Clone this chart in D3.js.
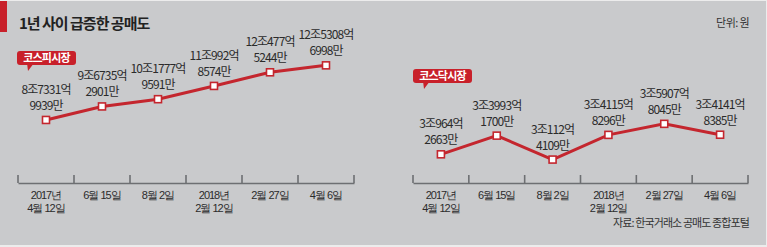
<!DOCTYPE html>
<html>
<head>
<meta charset="utf-8">
<script src="https://cdn.jsdelivr.net/npm/d3@7"></script>
<style>
  body { margin: 0; background: #ececec; }
  svg { display: block; font-family: "Noto Sans CJK KR", "Noto Sans", sans-serif; }
  .val { font-size: 12px; fill: #2b2b2b; letter-spacing: -0.9px; }
  .axis text { font-size: 11px; fill: #2b2b2b; letter-spacing: -1px; }
</style>
</head>
<body>
<svg id="chart" width="767" height="247"></svg>
<script>
// x 축 날짜 (줄바꿈은 \n)
var dates = ['2017년\n4월 12일', '6월 15일', '8월 2일', '2018년\n2월 12일', '2월 27일', '4월 6일'];
// 공매도 잔고, 단위: 만 원
var kospi = [873319939, 967352901, 1017779591, 1109928574, 1204775244, 1253086998];
var kosdaq = [309642663, 339931700, 301124109, 341158296, 359078045, 341418385];

var red = '#c4262e';
var svg = d3.select('#chart');

// 배경
svg.append('rect').attr('x', 0).attr('y', 1).attr('width', 766).attr('height', 244).attr('fill', '#c9cacc');
svg.append('rect').attr('x', 0).attr('y', 1).attr('width', 7).attr('height', 31).attr('fill', '#c8202a');

svg.append('text')
  .attr('x', 19).attr('y', 29)
  .attr('font-size', 15).attr('font-weight', 'bold')
  .attr('letter-spacing', '-1px')
  .attr('fill', '#222')
  .text('1년 사이 급증한 공매도');

svg.append('text')
  .attr('x', 749).attr('y', 27)
  .attr('text-anchor', 'end')
  .attr('font-size', 11).attr('letter-spacing', '-0.6px')
  .attr('fill', '#333')
  .text('단위: 원');

svg.append('text')
  .attr('x', 749).attr('y', 227)
  .attr('text-anchor', 'end')
  .attr('font-size', 11).attr('letter-spacing', '-0.9px')
  .attr('fill', '#333')
  .text('자료: 한국거래소 공매도 종합포털');

function fmt(v) {
  var jo = Math.floor(v / 1e8);
  var eok = Math.floor(v / 1e4) % 1e4;
  var man = v % 1e4;
  return [jo + '조' + eok + '억', man + '만'];
}

function panel(values, name, xRange, yDomain, yRange, badge) {
  var x = d3.scaleBand().domain(dates).range(xRange);
  var y = d3.scaleLinear().domain(yDomain).range(yRange);
  var axisY = 183;
  var g = svg.append('g');

  // 축
  var axis = g.append('g')
    .attr('class', 'axis')
    .attr('transform', 'translate(0,' + axisY + ')')
    .call(d3.axisBottom(x).tickSize(0).tickPadding(0));
  axis.select('.domain').attr('stroke', '#6d6f72').attr('stroke-width', 1.6);
  axis.selectAll('.tick text').each(function (d) {
    var t = d3.select(this).text(null).attr('y', 0).attr('dy', null);
    d.split('\n').forEach(function (s, i) {
      t.append('tspan').attr('x', 0).attr('y', 16 + i * 12.5).text(s);
    });
  });
  var edges = dates.map(function (d) { return x(d); }).concat([xRange[1]]);
  g.selectAll('line.edge')
    .data(edges)
    .enter()
    .append('line')
    .attr('class', 'edge')
    .attr('x1', function (d) { return d; })
    .attr('x2', function (d) { return d; })
    .attr('y1', axisY - 8)
    .attr('y2', axisY)
    .attr('stroke', '#6d6f72')
    .attr('stroke-width', 1.6);

  var cx = function (d, i) { return x(dates[i]) + x.bandwidth() / 2; };

  var line = d3.line()
    .x(cx)
    .y(function (d) { return y(d); });
  g.append('path')
    .datum(values)
    .attr('d', line)
    .attr('fill', 'none')
    .attr('stroke', red)
    .attr('stroke-width', 3);

  g.selectAll('rect.pt')
    .data(values)
    .enter()
    .append('rect')
    .attr('class', 'pt')
    .attr('x', function (d, i) { return cx(d, i) - 3.5; })
    .attr('y', function (d) { return y(d) - 3.5; })
    .attr('width', 7)
    .attr('height', 7)
    .attr('fill', '#fff')
    .attr('stroke', red)
    .attr('stroke-width', 1.6);

  var labels = g.selectAll('text.val')
    .data(values)
    .enter()
    .append('text')
    .attr('class', 'val')
    .attr('text-anchor', 'middle');
  labels.each(function (d, i) {
    var t = d3.select(this);
    var parts = fmt(d);
    t.append('tspan').attr('x', cx(d, i)).attr('y', y(d) - 26).text(parts[0]);
    t.append('tspan').attr('x', cx(d, i)).attr('y', y(d) - 10).text(parts[1]);
  });

  // 시장 이름 말풍선
  var b = g.append('g').attr('transform', 'translate(' + badge[0] + ',' + badge[1] + ')');
  b.append('path')
    .attr('d', 'M10,12 L11,20 L17,12 Z')
    .attr('fill', '#c8202a');
  b.append('rect')
    .attr('width', 59).attr('height', 14).attr('rx', 3)
    .attr('fill', '#c8202a');
  b.append('text')
    .attr('x', 29.5).attr('y', 11)
    .attr('text-anchor', 'middle')
    .attr('font-size', 11).attr('font-weight', 'bold')
    .attr('letter-spacing', '-0.8px')
    .attr('fill', '#fff')
    .text(name);
}

panel(kospi, '코스피시장', [18, 354], [8e8, 13e8], [130.5, 58.6], [17, 51]);
panel(kosdaq, '코스닥시장', [413, 748], [2.8e8, 3.7e8], [172.6, 117.1], [413, 69]);
</script>
</body>
</html>
